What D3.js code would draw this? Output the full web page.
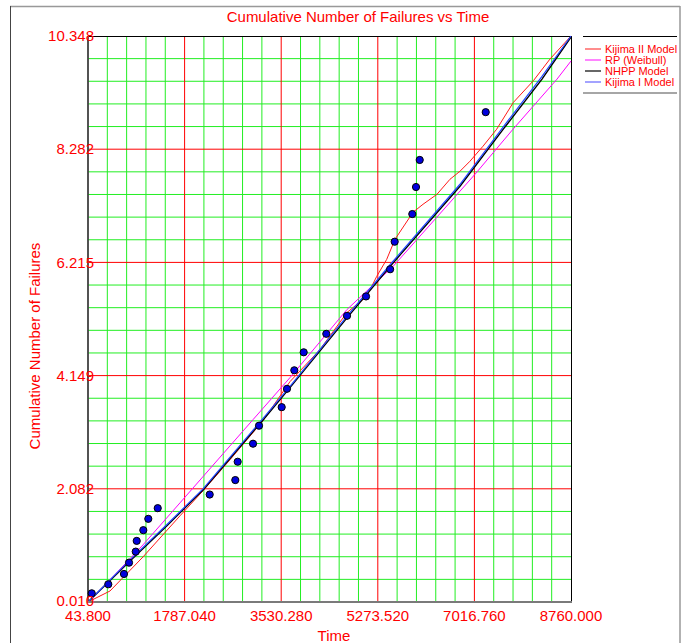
<!DOCTYPE html>
<html>
<head>
<meta charset="utf-8">
<script src="https://cdn.jsdelivr.net/npm/d3@7"></script>
<style>
  body { margin: 0; background: #fff; }
  text { font-family: "Liberation Sans", Arial, sans-serif; }
</style>
</head>
<body>
<div id="chart"></div>
<script>
// observed failures (time, cumulative count)
var failTime = [111, 410, 693, 784, 905, 923, 1042, 1132, 1302, 2240, 2702, 2745, 3022, 3130,
  3539, 3635, 3767, 3936, 4344, 4718, 5061, 5496, 5578, 5896, 5963, 6030, 7221];
var failCount = [0.169, 0.334, 0.522, 0.729, 0.930, 1.126, 1.322, 1.529, 1.724, 1.973, 2.237, 2.572, 2.901, 3.230,
  3.569, 3.904, 4.242, 4.571, 4.908, 5.237, 5.591, 6.088, 6.591, 7.096, 7.590, 8.084, 8.957];

// model curves
var kijima2Time = [43.8, 441, 1036, 1704, 2119, 2606, 3202, 3689, 4230, 4718, 5073, 5254, 5434, 5584,
  5909, 6089, 6342, 6576, 6757, 6937, 7172, 7419, 7719, 8080, 8381, 8760];
var kijima2N = [0.010, 0.211, 0.833, 1.584, 2.041, 2.608, 3.322, 4.035, 4.621, 5.298, 5.591, 5.957, 6.268, 6.634,
  7.128, 7.274, 7.457, 7.731, 7.878, 8.061, 8.335, 8.646, 9.134, 9.530, 9.927, 10.348];

var rpTime = [43.8, 441, 1036, 1704, 3021, 3689, 4718, 5548, 7028, 7714, 8508, 8760];
var rpN = [0.010, 0.413, 1.053, 1.821, 3.340, 4.108, 5.353, 6.139, 7.823, 8.646, 9.561, 9.891];

var nhppTime = [43.8, 802, 1464, 2124, 3207, 3689, 4718, 5494, 6757, 7538, 8237, 8760];
var nhppN = [0.010, 0.760, 1.400, 2.060, 3.340, 3.926, 5.200, 6.139, 7.603, 8.646, 9.561, 10.330];

var kijima1Time = [43.8, 802, 1464, 2124, 3207, 3689, 4718, 5494, 6757, 7538, 8237, 8760];
var kijima1N = [0.010, 0.780, 1.420, 2.080, 3.370, 3.950, 5.230, 6.170, 7.640, 8.690, 9.610, 10.348];

var xTickLabels = ["43.800", "1787.040", "3530.280", "5273.520", "7016.760", "8760.000"];
var yTickLabels = ["0.010", "2.082", "4.149", "6.215", "8.282", "10.348"];

var legendNames = ["Kijima II Model", "RP (Weibull)", "NHPP Model", "Kijima I Model"];

var svgWidth = 683, svgHeight = 643;
var plot = { left: 88, right: 571, top: 36, bottom: 602 };

var svg = d3.select("#chart").append("svg")
  .attr("width", svgWidth)
  .attr("height", svgHeight);

svg.append("rect").attr("width", svgWidth).attr("height", svgHeight).attr("fill", "#fff");

// outer frame
svg.append("line").attr("x1", 10).attr("y1", 6.5).attr("x2", 680).attr("y2", 6.5)
  .attr("stroke", "#999").attr("stroke-width", 1.5);
svg.append("line").attr("x1", 10.5).attr("y1", 6).attr("x2", 10.5).attr("y2", 643)
  .attr("stroke", "#444").attr("stroke-width", 1);
svg.append("line").attr("x1", 680).attr("y1", 6).attr("x2", 680).attr("y2", 643)
  .attr("stroke", "#999").attr("stroke-width", 1.5);

var xScale = d3.scaleLinear().domain([43.8, 8760]).range([plot.left, plot.right]);
var yScale = d3.scaleLinear().domain([0.010, 10.348]).range([plot.bottom, plot.top]);

var xGrid = d3.range(26).map(function(i) { return 43.8 + i * (8760 - 43.8) / 25; });
var yGrid = d3.range(26).map(function(i) { return 0.010 + i * (10.348 - 0.010) / 25; });

var gridGroup = svg.append("g");

// minor (green) then major (red)
gridGroup.selectAll(".vminor")
  .data(xGrid.filter(function(d, i) { return i % 5 !== 0; }))
  .enter().append("line")
  .attr("x1", d => xScale(d)).attr("x2", d => xScale(d))
  .attr("y1", plot.top).attr("y2", plot.bottom)
  .attr("stroke", "#22ee22").attr("stroke-width", 1);

gridGroup.selectAll(".hminor")
  .data(yGrid.filter(function(d, i) { return i % 5 !== 0; }))
  .enter().append("line")
  .attr("x1", plot.left).attr("x2", plot.right)
  .attr("y1", d => yScale(d)).attr("y2", d => yScale(d))
  .attr("stroke", "#22ee22").attr("stroke-width", 1);

gridGroup.selectAll(".vmajor")
  .data(xGrid.filter(function(d, i) { return i % 5 === 0 && i > 0 && i < 25; }))
  .enter().append("line")
  .attr("x1", d => xScale(d)).attr("x2", d => xScale(d))
  .attr("y1", plot.top).attr("y2", plot.bottom)
  .attr("stroke", "#ff0000").attr("stroke-width", 1);

gridGroup.selectAll(".hmajor")
  .data(yGrid.filter(function(d, i) { return i % 5 === 0 && i > 0 && i < 25; }))
  .enter().append("line")
  .attr("x1", plot.left).attr("x2", plot.right)
  .attr("y1", d => yScale(d)).attr("y2", d => yScale(d))
  .attr("stroke", "#ff0000").attr("stroke-width", 1);

// plot border
svg.append("line").attr("x1", plot.left).attr("x2", plot.right).attr("y1", plot.top + 0.5).attr("y2", plot.top + 0.5)
  .attr("stroke", "#000").attr("stroke-width", 1);
svg.append("line").attr("x1", plot.right + 0.5).attr("x2", plot.right + 0.5).attr("y1", plot.top).attr("y2", plot.bottom)
  .attr("stroke", "#000").attr("stroke-width", 1);

// curves
var line = d3.line()
  .x(d => xScale(d[0]))
  .y(d => yScale(d[1]));

var curves = [
  { t: kijima2Time, n: kijima2N, color: "#ff1a1a", w: 1 },
  { t: rpTime, n: rpN, color: "#ff00ff", w: 1 },
  { t: nhppTime, n: nhppN, color: "#000000", w: 1.4 },
  { t: kijima1Time, n: kijima1N, color: "#2244ff", w: 1.2 }
];

svg.append("g").selectAll("path")
  .data(curves)
  .enter().append("path")
  .attr("d", c => line(d3.zip(c.t, c.n)))
  .attr("fill", "none")
  .attr("stroke", c => c.color)
  .attr("stroke-width", c => c.w);

// axes lines (left dark, bottom grey)
svg.append("line").attr("x1", plot.left).attr("x2", plot.left).attr("y1", plot.top).attr("y2", plot.bottom + 1)
  .attr("stroke", "#404040").attr("stroke-width", 1.8);
svg.append("line").attr("x1", plot.left).attr("x2", plot.right + 1).attr("y1", plot.bottom).attr("y2", plot.bottom)
  .attr("stroke", "#7a7a7a").attr("stroke-width", 2);

// failure points
svg.append("g").selectAll("circle")
  .data(d3.zip(failTime, failCount))
  .enter().append("circle")
  .attr("cx", d => xScale(d[0]))
  .attr("cy", d => yScale(d[1]))
  .attr("r", 3.6)
  .attr("fill", "#0000dd")
  .attr("stroke", "#000")
  .attr("stroke-width", 1);

// tick labels
var xMajor = xGrid.filter(function(d, i) { return i % 5 === 0; });
var yMajor = yGrid.filter(function(d, i) { return i % 5 === 0; });

svg.append("g").selectAll("text")
  .data(xMajor)
  .enter().append("text")
  .attr("x", d => xScale(d))
  .attr("y", plot.bottom + 14)
  .attr("dy", "0.35em")
  .attr("text-anchor", "middle")
  .attr("font-size", "15px")
  .attr("fill", "#ff0000")
  .text((d, i) => xTickLabels[i]);

svg.append("g").selectAll("text")
  .data(yMajor)
  .enter().append("text")
  .attr("x", plot.left + 6)
  .attr("y", (d, i) => yScale(d) - (i === 0 ? 1 : 0))
  .attr("dy", "0.35em")
  .attr("text-anchor", "end")
  .attr("font-size", "15px")
  .attr("fill", "#ff0000")
  .text((d, i) => yTickLabels[i]);

// title and axis titles
svg.append("text")
  .attr("x", 358).attr("y", 17)
  .attr("dy", "0.35em")
  .attr("text-anchor", "middle")
  .attr("font-size", "15px")
  .attr("fill", "#ff0000")
  .text("Cumulative Number of Failures vs Time");

svg.append("text")
  .attr("x", 334).attr("y", 636)
  .attr("dy", "0.35em")
  .attr("text-anchor", "middle")
  .attr("font-size", "15px")
  .attr("fill", "#ff0000")
  .text("Time");

svg.append("text")
  .attr("transform", "translate(35, 346) rotate(-90)")
  .attr("dy", "0.35em")
  .attr("text-anchor", "middle")
  .attr("font-size", "15px")
  .attr("fill", "#ff0000")
  .text("Cumulative Number of Failures");

// legend
var legend = svg.append("g");
legend.append("line").attr("x1", 583).attr("x2", 677).attr("y1", 36.5).attr("y2", 36.5)
  .attr("stroke", "#000").attr("stroke-width", 1);
legend.append("line").attr("x1", 583).attr("x2", 677).attr("y1", 93).attr("y2", 93)
  .attr("stroke", "#888").attr("stroke-width", 1.5);

var legendItems = legend.selectAll(".item")
  .data(legendNames)
  .enter().append("g")
  .attr("transform", (d, i) => `translate(0, ${49 + i * 11})`);

legendItems.append("line")
  .attr("x1", 585).attr("x2", 601)
  .attr("stroke", (d, i) => ["#ff4040", "#ff33ff", "#000000", "#6666ff"][i])
  .attr("stroke-width", 1.2);

legendItems.append("text")
  .attr("x", 605)
  .attr("dy", "0.35em")
  .attr("font-size", "11px")
  .attr("fill", "#ff0000")
  .text(d => d);
</script>
</body>
</html>
